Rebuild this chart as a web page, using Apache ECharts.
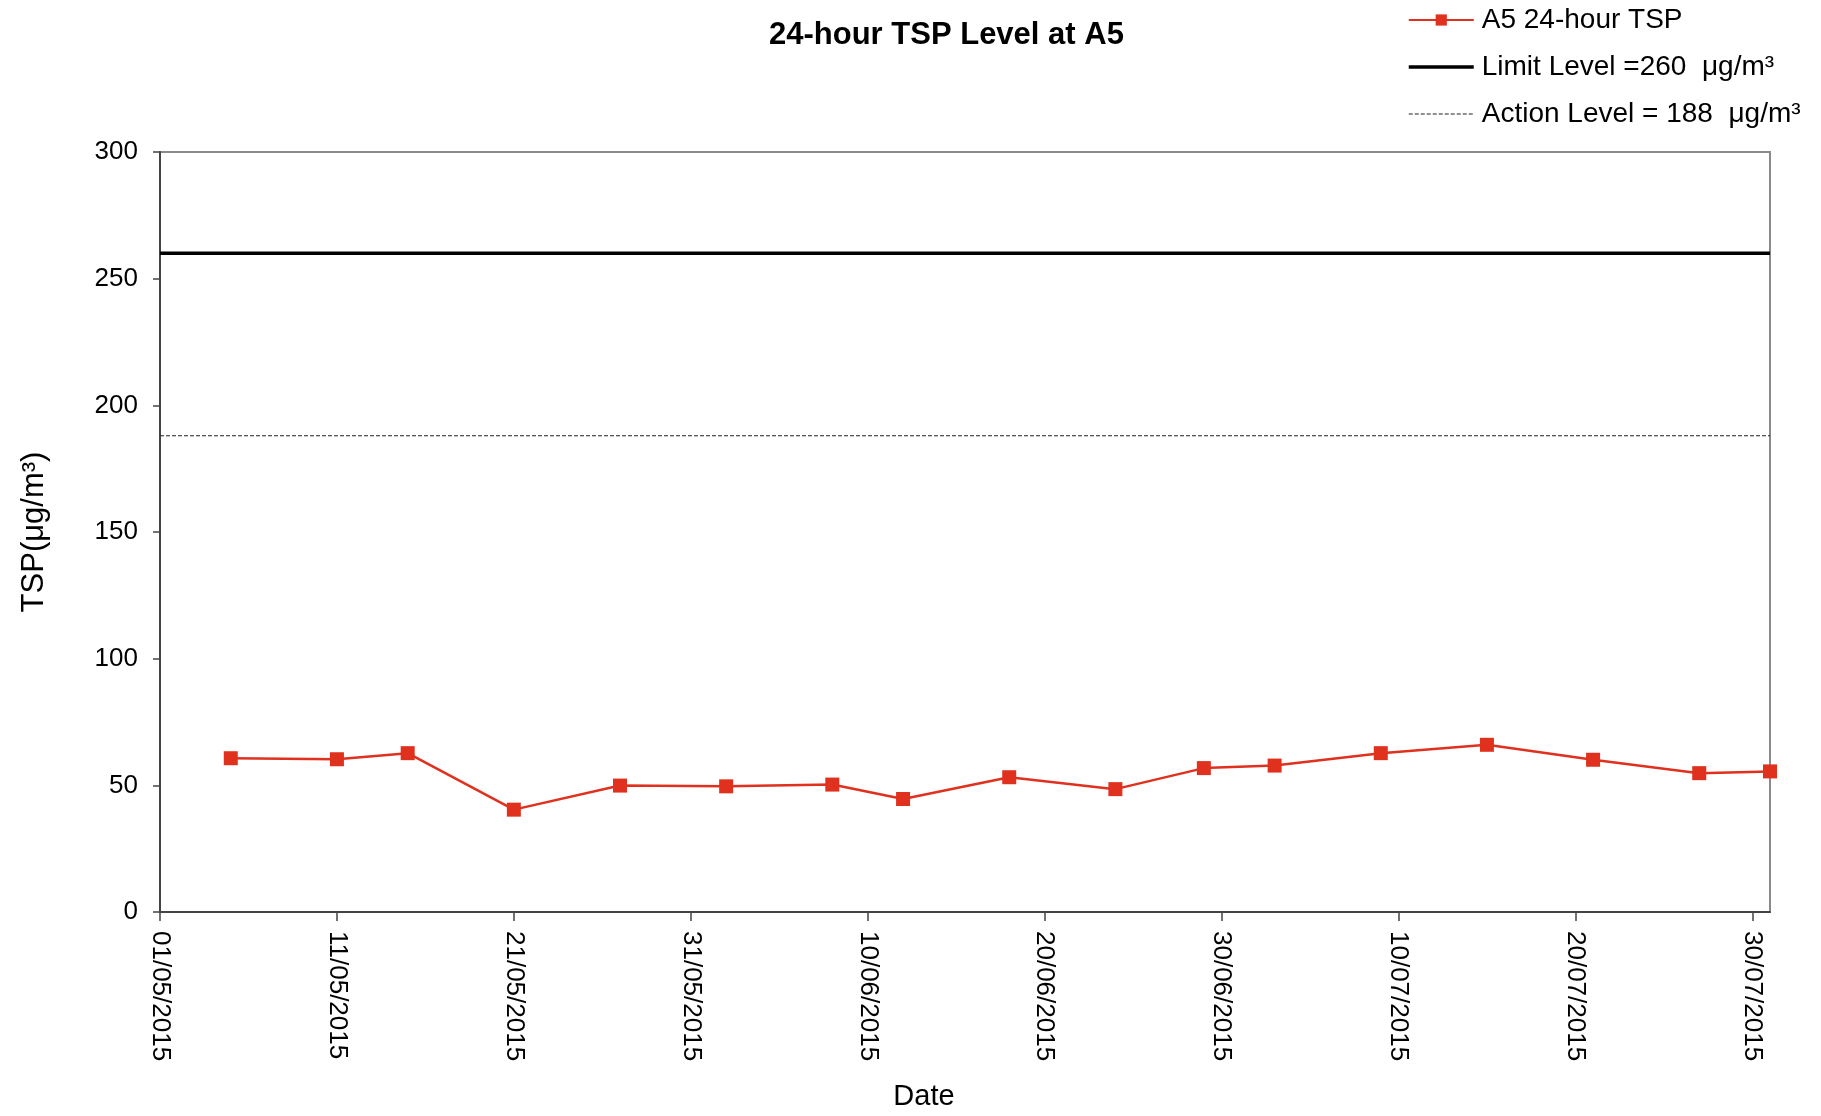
<!DOCTYPE html>
<html>
<head>
<meta charset="utf-8">
<script src="https://cdn.jsdelivr.net/npm/echarts@6/dist/echarts.min.js"></script>
<style>
html,body{margin:0;padding:0;background:#fff;}
#chart{width:1821px;height:1116px;}
</style>
</head>
<body>
<div id="chart"></div>
<script>
// ---- data ----
const startDate = '01/05/2015';
const endDate = '31/07/2015';
const sampleDates = ['05/05/2015','11/05/2015','15/05/2015','21/05/2015','27/05/2015','02/06/2015','08/06/2015','12/06/2015','18/06/2015','24/06/2015','29/06/2015','03/07/2015','09/07/2015','15/07/2015','21/07/2015','27/07/2015','31/07/2015'];
const tspValues = [60.7, 60.3, 62.7, 40.4, 49.9, 49.6, 50.3, 44.6, 53.2, 48.5, 56.8, 57.8, 62.7, 66.0, 60.1, 54.8, 55.5];
const limitLevel = 260;
const actionLevel = 188;
const tickDates = ['01/05/2015','11/05/2015','21/05/2015','31/05/2015','10/06/2015','20/06/2015','30/06/2015','10/07/2015','20/07/2015','30/07/2015'];
const yTicks = [0, 50, 100, 150, 200, 250, 300];
const seriesNames = ['A5 24-hour TSP', 'Limit Level =260  \u03bcg/m\u00b3', 'Action Level = 188  \u03bcg/m\u00b3'];

// ---- helpers ----
function toDay(s) {
  const p = s.split('/');
  const s0 = startDate.split('/');
  const t = Date.UTC(+p[2], +p[1] - 1, +p[0]);
  const t0 = Date.UTC(+s0[2], +s0[1] - 1, +s0[0]);
  return Math.round((t - t0) / 86400000);
}
const dayToLabel = {};
tickDates.forEach(d => { dayToLabel[toDay(d)] = d; });
const tickDays = tickDates.map(toDay);
const xMin = toDay(startDate);
const xMax = toDay(endDate);

const tspData = sampleDates.map((d, i) => [toDay(d), tspValues[i]]);
const limitData = [[xMin, limitLevel], [xMax, limitLevel]];
const actionData = [[xMin, actionLevel], [xMax, actionLevel]];

const FONT = '"Liberation Sans", Arial, sans-serif';

const chart = echarts.init(document.getElementById('chart'));
chart.setOption({
  backgroundColor: '#ffffff',
  animation: false,
  textStyle: { fontFamily: FONT },
  title: {
    text: '24-hour TSP Level at A5',
    left: 769,
    top: 20,
    padding: 0,
    textStyle: { fontFamily: FONT, fontSize: 31, fontWeight: 'bold', color: '#000' }
  },
  legend: {
    orient: 'vertical',
    left: 1407,
    top: 6,
    padding: 0,
    itemWidth: 65,
    itemHeight: 14,
    itemGap: 19,
    data: [
      { name: seriesNames[0] },
      { name: seriesNames[1], itemStyle: { opacity: 0 }, lineStyle: { width: 3.5, color: '#000' } },
      { name: seriesNames[2], itemStyle: { opacity: 0 }, lineStyle: { width: 1.2, color: '#222', type: [4, 2] } }
    ],
    textStyle: { fontFamily: FONT, fontSize: 28, color: '#000', padding: [0, 0, 0, 3] }
  },
  grid: {
    left: 160,
    right: 51,
    top: 152,
    bottom: 200,
    show: true,
    borderColor: '#8a8a8a',
    borderWidth: 2,
    backgroundColor: 'transparent'
  },
  xAxis: {
    type: 'value',
    min: xMin,
    max: xMax,
    interval: 10,
    name: 'Date',
    nameLocation: 'middle',
    nameGap: 170,
    nameTextStyle: { fontFamily: FONT, fontSize: 29, color: '#000', padding: [0, 82, 0, 0] },
    splitLine: { show: false },
    axisLine: { show: true, lineStyle: { color: '#444', width: 2 } },
    axisTick: { show: true, length: 9, lineStyle: { color: '#444', width: 1.5 }, customValues: tickDays },
    axisLabel: {
      rotate: -90,
      margin: 19,
      fontSize: 26,
      fontFamily: FONT,
      color: '#000',
      customValues: tickDays,
      formatter: v => dayToLabel[v] || ''
    }
  },
  yAxis: {
    type: 'value',
    min: 0,
    max: 300,
    interval: 50,
    name: 'TSP(\u03bcg/m\u00b3)',
    nameLocation: 'middle',
    nameGap: 110,
    nameTextStyle: { fontFamily: FONT, fontSize: 31, color: '#000' },
    splitLine: { show: false },
    axisLine: { show: true, lineStyle: { color: '#444', width: 2 } },
    axisTick: { show: true, length: 7, lineStyle: { color: '#444', width: 1.5 }, customValues: yTicks },
    axisLabel: { margin: 22, fontSize: 26, fontFamily: FONT, color: '#000', customValues: yTicks }
  },
  series: [
    {
      name: seriesNames[0],
      type: 'line',
      data: tspData,
      clip: false,
      symbol: 'rect',
      symbolSize: 14,
      itemStyle: { color: '#e0301e' },
      lineStyle: { color: '#e0301e', width: 2.5 },
      z: 5
    },
    {
      name: seriesNames[1],
      type: 'line',
      data: limitData,
      symbol: 'none',
      lineStyle: { color: '#000', width: 3.5 },
      itemStyle: { color: '#000' }
    },
    {
      name: seriesNames[2],
      type: 'line',
      data: actionData,
      symbol: 'none',
      lineStyle: { color: '#222', width: 1.2, type: [4, 2] },
      itemStyle: { color: '#222' }
    }
  ]
});
</script>
</body>
</html>
